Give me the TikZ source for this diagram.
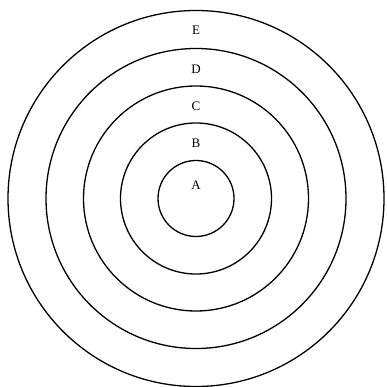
\documentclass[tikz,border=0pt]{standalone}
\usepackage{fontspec}
\setmainfont{Liberation Serif}
\begin{document}
\begin{tikzpicture}[x=1pt,y=-1pt,
  ring/.style={draw=black,line width=1.3pt,circle,inner sep=0pt},
  lbl/.style={font=\fontsize{13}{13}\selectfont,inner sep=0pt}]
\useasboundingbox (0,0) rectangle (386,387);
\coordinate (o) at (196,198.5);
\node[ring,minimum size=376pt] (e) at (o) {};
\node[ring,minimum size=300pt] (d) at (o) {};
\node[ring,minimum size=225pt] (c) at (o) {};
\node[ring,minimum size=151pt] (b) at (o) {};
\node[ring,minimum size=76pt] (a) at (o) {};
\node[lbl] (le) at (196,30) {E};
\node[lbl] (ld) at (196,69) {D};
\node[lbl] (lc) at (196,106) {C};
\node[lbl] (lb) at (196,143) {B};
\node[lbl] (la) at (196,185) {A};
\end{tikzpicture}
\end{document}
